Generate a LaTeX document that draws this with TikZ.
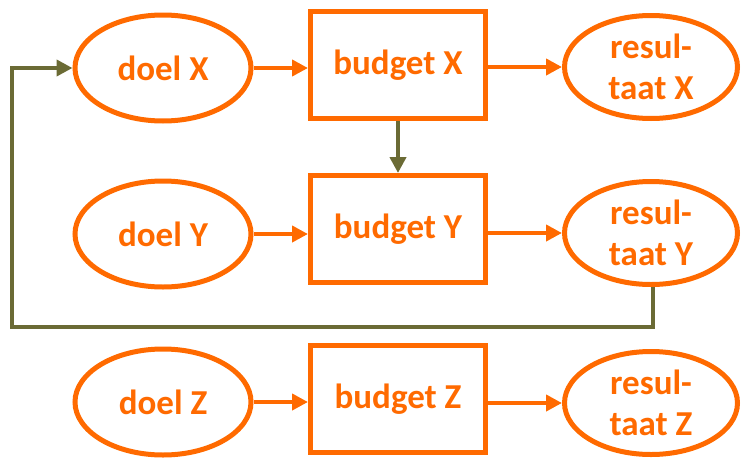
\documentclass[tikz,border=0pt]{standalone}
\usepackage{fontspec}
\setmainfont{Carlito}
\usetikzlibrary{arrows.meta,shapes.geometric}
\definecolor{flame}{HTML}{FF6A00}
\definecolor{olive}{HTML}{6B6B35}
\tikzset{
  goal/.style={ellipse, draw=flame, line width=5pt, minimum width=176pt, minimum height=106pt, inner sep=0pt,
    text=flame, font=\bfseries\fontsize{35}{41}\selectfont, align=center},
  outcome/.style={goal, minimum width=173pt, minimum height=103pt},
  budgetbox/.style={rectangle, draw=flame, line width=5pt, minimum width=175pt, minimum height=107pt, inner sep=0pt,
    text=flame, font=\bfseries\fontsize{35}{41}\selectfont},
  flow/.style={draw=flame, line width=4.5pt, -{Triangle[length=16pt,width=16pt]}},
  link/.style={draw=olive, line width=4.5pt, -{Triangle[length=16pt,width=16pt]}}
}
\begin{document}
\begin{tikzpicture}[x=1pt,y=-1pt]
\useasboundingbox (0,0) rectangle (741,458);
% row X
\node[goal] (dX) at (163,68) {doel X};
\node[budgetbox] (bX) at (398,65) {budget X};
\node[outcome] (rX) at (651,67) {resul-\\taat X};
% row Y
\node[goal] (dY) at (163,234) {doel Y};
\node[budgetbox] (bY) at (398,229) {budget Y};
\node[outcome] (rY) at (651,233) {resul-\\taat Y};
% row Z
\node[goal] (dZ) at (163,402) {doel Z};
\node[budgetbox] (bZ) at (398,399) {budget Z};
\node[outcome] (rZ) at (651,403) {resul-\\taat Z};
% forward flow in each row
\draw[flow] (dX.east) -- (bX.west |- dX.east);
\draw[flow] (bX.east |- rX.west) -- (rX.west);
\draw[flow] (dY.east) -- (bY.west |- dY.east);
\draw[flow] (bY.east |- rY.west) -- (rY.west);
\draw[flow] (dZ.east) -- (bZ.west |- dZ.east);
\draw[flow] (bZ.east |- rZ.west) -- (rZ.west);
% budget X feeds budget Y
\draw[link] (bX.south) -- (bY.north);
% feedback from resultaat Y back to doel X
\coordinate (fb) at (12,327);
\draw[link] ([xshift=2pt]rY.south) |- (fb) |- (dX.west);
\end{tikzpicture}
\end{document}
